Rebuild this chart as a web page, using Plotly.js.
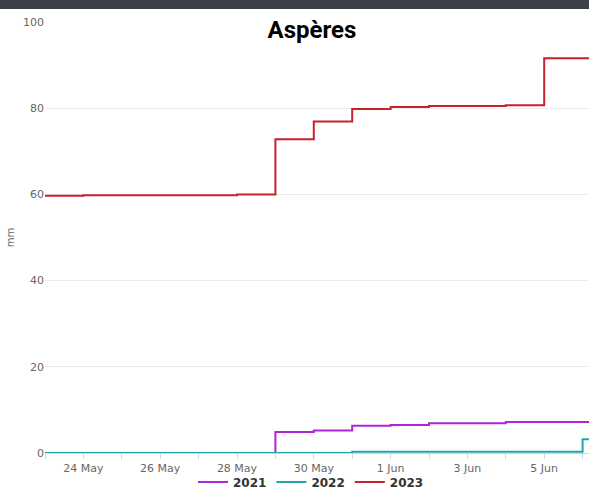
<!DOCTYPE html>
<html>
<head>
<meta charset="utf-8">
<script src="https://cdn.plot.ly/plotly-3.0.1.min.js"></script>
<style>
  body { margin: 0; background: #fff; }
  #bar { position: absolute; left: 0; top: 0; width: 589px; height: 9px; background: #3d4049; z-index: 10; }
  #plot { width: 589px; height: 490px; }
</style>
</head>
<body>
<div id="bar"></div>
<div id="plot"></div>
<script>
// daily cumulative rain, same calendar days for each year
var days = ['2023-05-23', '2023-05-24', '2023-05-25', '2023-05-26', '2023-05-27', '2023-05-28',
    '2023-05-29', '2023-05-30', '2023-05-31', '2023-06-01', '2023-06-02', '2023-06-03',
    '2023-06-04', '2023-06-05', '2023-06-06', '2023-06-07'];
var rain2021 = [0, 0, 0, 0, 0, 0, 4.9, 5.2, 6.3, 6.5, 6.9, 6.9, 7.2, 7.2, 7.2, 7.2];
var rain2022 = [0, 0, 0, 0, 0, 0, 0, 0, 0.3, 0.3, 0.3, 0.3, 0.3, 0.3, 3.2, 3.2];
var rain2023 = [59.7, 59.8, 59.8, 59.8, 59.8, 60.0, 72.8, 76.9, 79.8, 80.3, 80.5, 80.5, 80.7, 91.6, 91.6, 91.6];

var names = ['2021', '2022', '2023'];
var colors = ['#b025d6', '#22a5a8', '#c4232b'];
var series = [rain2021, rain2022, rain2023];

var data = [];
for (var i = 0; i < series.length; i++) {
    data.push({
        x: days,
        y: series[i],
        type: 'scatter',
        mode: 'lines',
        line: { shape: 'hv', color: colors[i], width: 2 },
        name: names[i]
    });
}

var layout = {
    width: 589,
    height: 490,
    margin: { l: 45, r: 0, t: 22, b: 37, autoexpand: false },
    paper_bgcolor: '#fff',
    plot_bgcolor: '#fff',
    font: { family: 'DejaVu Sans, sans-serif', size: 11, color: '#666' },
    title: {
        text: 'Aspères',
        font: { family: 'Roboto', size: 24, weight: 'bold', color: '#000' },
        xref: 'container', x: 312 / 589, xanchor: 'center',
        yref: 'container', y: 1 - 30 / 490, yanchor: 'middle'
    },
    xaxis: {
        type: 'date',
        range: ['2023-05-23', '2023-06-06 04:00'],
        tick0: '2023-05-24',
        dtick: 2 * 86400000,
        tickformat: '%-d %b',
        tickangle: 0,
        ticks: 'outside',
        ticklen: 5,
        tickcolor: '#ccd6eb',
        showline: true,
        linecolor: '#ccd6eb',
        showgrid: false,
        zeroline: false,
        automargin: false,
        minor: { dtick: 86400000, ticks: 'outside', ticklen: 5, tickcolor: '#ccd6eb', showgrid: false },
        tickfont: { size: 11, color: '#666' }
    },
    yaxis: {
        range: [0, 100],
        dtick: 20,
        gridcolor: '#ececec',
        zeroline: false,
        automargin: false,
        ticklabelstandoff: 0,
        tickfont: { size: 11, color: '#666' },
        title: { text: 'mm', font: { size: 10, color: '#666' }, standoff: 6 }
    },
    showlegend: true,
    legend: {
        orientation: 'h',
        x: (311 - 45) / 544, xanchor: 'center',
        y: -(482 - 453) / 431, yanchor: 'middle',
        font: { size: 12, color: '#333', weight: 'bold' },
        itemwidth: 30,
        bgcolor: 'rgba(0,0,0,0)'
    }
};

Plotly.newPlot('plot', data, layout, { displayModeBar: false, staticPlot: true });
</script>
</body>
</html>
